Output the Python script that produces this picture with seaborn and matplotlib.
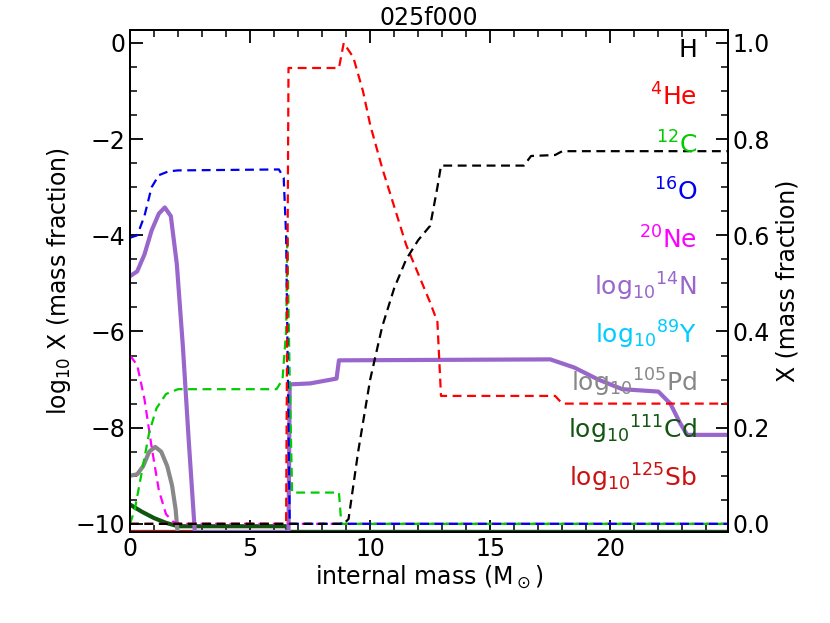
import numpy as np
import pandas as pd
import matplotlib
matplotlib.use("Agg")
import matplotlib.pyplot as plt
import seaborn as sns

# dashed, linear mass fraction (right axis)
h_x = [0, 8.9, 9.1, 9.5, 10, 10.5, 11, 11.5, 12, 12.5, 12.8, 12.95, 16.4, 16.7, 17.7, 18.0, 24.9]
h_y = [0, 0, 0.01, 0.15, 0.30, 0.41, 0.49, 0.55, 0.59, 0.62, 0.70, 0.745, 0.745, 0.765, 0.767, 0.775, 0.775]
he_x = [0, 6.5, 6.6, 8.7, 8.9, 9.3, 9.7, 10, 10.5, 11, 11.5, 12, 12.5, 12.8, 12.95, 17.7, 18.0, 24.9]
he_y = [0, 0, 0.948, 0.948, 1.0, 0.97, 0.90, 0.83, 0.74, 0.66, 0.58, 0.52, 0.46, 0.42, 0.266, 0.266, 0.25, 0.25]
c_x = [0, 0.2, 0.5, 0.8, 1.1, 1.5, 2.0, 2.5, 6.1, 6.35, 6.5, 6.55, 6.65, 6.75, 8.7, 8.8, 24.9]
c_y = [0.0, 0.03, 0.11, 0.19, 0.24, 0.27, 0.28, 0.28, 0.28, 0.30, 0.40, 0.60, 0.30, 0.065, 0.065, 0.0, 0.0]
o_x = [0, 0.3, 0.6, 0.9, 1.2, 1.6, 2.0, 6.2, 6.4, 6.5, 6.65, 24.9]
o_y = [0.595, 0.60, 0.64, 0.70, 0.725, 0.733, 0.735, 0.737, 0.72, 0.60, 0.0, 0.0]
ne_x = [0, 0.3, 0.6, 0.9, 1.2, 1.5, 1.8, 2.1, 24.9]
ne_y = [0.35, 0.33, 0.26, 0.16, 0.07, 0.02, 0.004, 0.0, 0.0]

# solid, log10 mass fraction (left axis)
n_x = [0, 0.3, 0.6, 0.9, 1.2, 1.45, 1.7, 1.95, 2.2, 2.45, 2.7, 6.6, 6.65, 7.5, 8.6, 8.7, 17.5, 18.5, 19.5, 20.5, 22, 22.5, 22.9, 23.2, 24.9]
n_y = [-4.85, -4.75, -4.4, -3.9, -3.55, -3.42, -3.6, -4.6, -6.3, -8.3, -10.17, -10.17, -7.1, -7.08, -6.98, -6.6, -6.58, -6.75, -7.0, -7.2, -7.25, -7.5, -7.9, -8.15, -8.15]
pd_x = [0, 0.3, 0.55, 0.8, 1.05, 1.3, 1.55, 1.75, 1.9, 1.98]
pd_y = [-9.0, -8.97, -8.8, -8.5, -8.4, -8.5, -8.8, -9.2, -9.7, -10.17]
cd_x = [0, 0.5, 1.0, 1.5, 2.0, 6.5, 6.6, 24.9]
cd_y = [-9.6, -9.75, -9.88, -9.98, -10.05, -10.05, -10.17, -10.17]
y_x = [0, 24.9]; y_y = [-10.17, -10.17]
sb_x = [0, 24.9]; sb_y = [-10.17, -10.17]

labels = ["H", r"$^{4}$He", r"$^{12}$C", r"$^{16}$O", r"$^{20}$Ne",
          r"log$_{10}$$^{14}$N", r"log$_{10}$$^{89}$Y", r"log$_{10}$$^{105}$Pd",
          r"log$_{10}$$^{111}$Cd", r"log$_{10}$$^{125}$Sb"]
colors = ["black", "#ff0000", "#00cc00", "#0000ee", "#ff00ff",
          "#9966cc", "#00ccff", "#888888", "#115511", "#cc1111"]

fig = plt.figure(figsize=(8.3, 6.23), dpi=100)
ax = fig.add_axes([130/830, 1-532/623, 598/830, 502/623])
ax2 = ax.twinx()
lo, hi = -10.17, 0.27
ax.set_ylim(lo, hi)
ax2.set_ylim((lo + 10) / 10, (hi + 10) / 10)
ax.set_xlim(0, 24.9)

solid = [(y_x, y_y, colors[6]), (sb_x, sb_y, colors[9]), (cd_x, cd_y, colors[8]),
         (pd_x, pd_y, colors[7]), (n_x, n_y, colors[5])]
for xs, ys, c in solid:
    sns.lineplot(x=xs, y=ys, ax=ax, color=c, lw=3, sort=False, estimator=None)
dashed = [(ne_x, ne_y, colors[4]), (c_x, c_y, colors[2]), (o_x, o_y, colors[3]),
          (he_x, he_y, colors[1]), (h_x, h_y, colors[0])]
for xs, ys, c in dashed:
    sns.lineplot(x=xs, y=ys, ax=ax2, color=c, lw=1.6, ls=(0, (4, 2.5)), sort=False, estimator=None)

fs = 17
ax.set_xticks([0, 5, 10, 15, 20])
ax.set_yticks([0, -2, -4, -6, -8, -10])
ax.set_yticklabels(["0", "−2", "−4", "−6", "−8", "−10"])
ax2.set_yticks([0, 0.2, 0.4, 0.6, 0.8, 1.0])
ax.set_xticks(np.arange(0, 25, 1), minor=True)
ax.set_yticks(np.arange(-10, 0.01, 0.5), minor=True)
ax2.set_yticks(np.arange(0, 1.01, 0.05), minor=True)
for a in (ax, ax2):
    a.tick_params(direction="in", which="both", labelsize=fs, top=True)
    a.tick_params(which="major", length=9, width=1.3)
    a.tick_params(which="minor", length=5, width=1.1)
    for s in a.spines.values():
        s.set_linewidth(1.4)
ax.set_xlabel(r"internal mass (M$_\odot$)", fontsize=fs, labelpad=2)
ax.set_ylabel(r"log$_{10}$ X (mass fraction)", fontsize=fs, labelpad=2)
ax2.set_ylabel("X (mass fraction)", fontsize=fs, labelpad=4)
ax.set_title("025f000", fontsize=fs, pad=3)

ys_px = [50, 97, 145, 192, 240, 287, 335, 383, 430, 478]
for lab, c, yp in zip(labels, colors, ys_px):
    fig.text(697/830, 1 - yp/623, lab, color=c, fontsize=fs + 1, ha="right", va="center")

fig.savefig("out.png", dpi=100)
